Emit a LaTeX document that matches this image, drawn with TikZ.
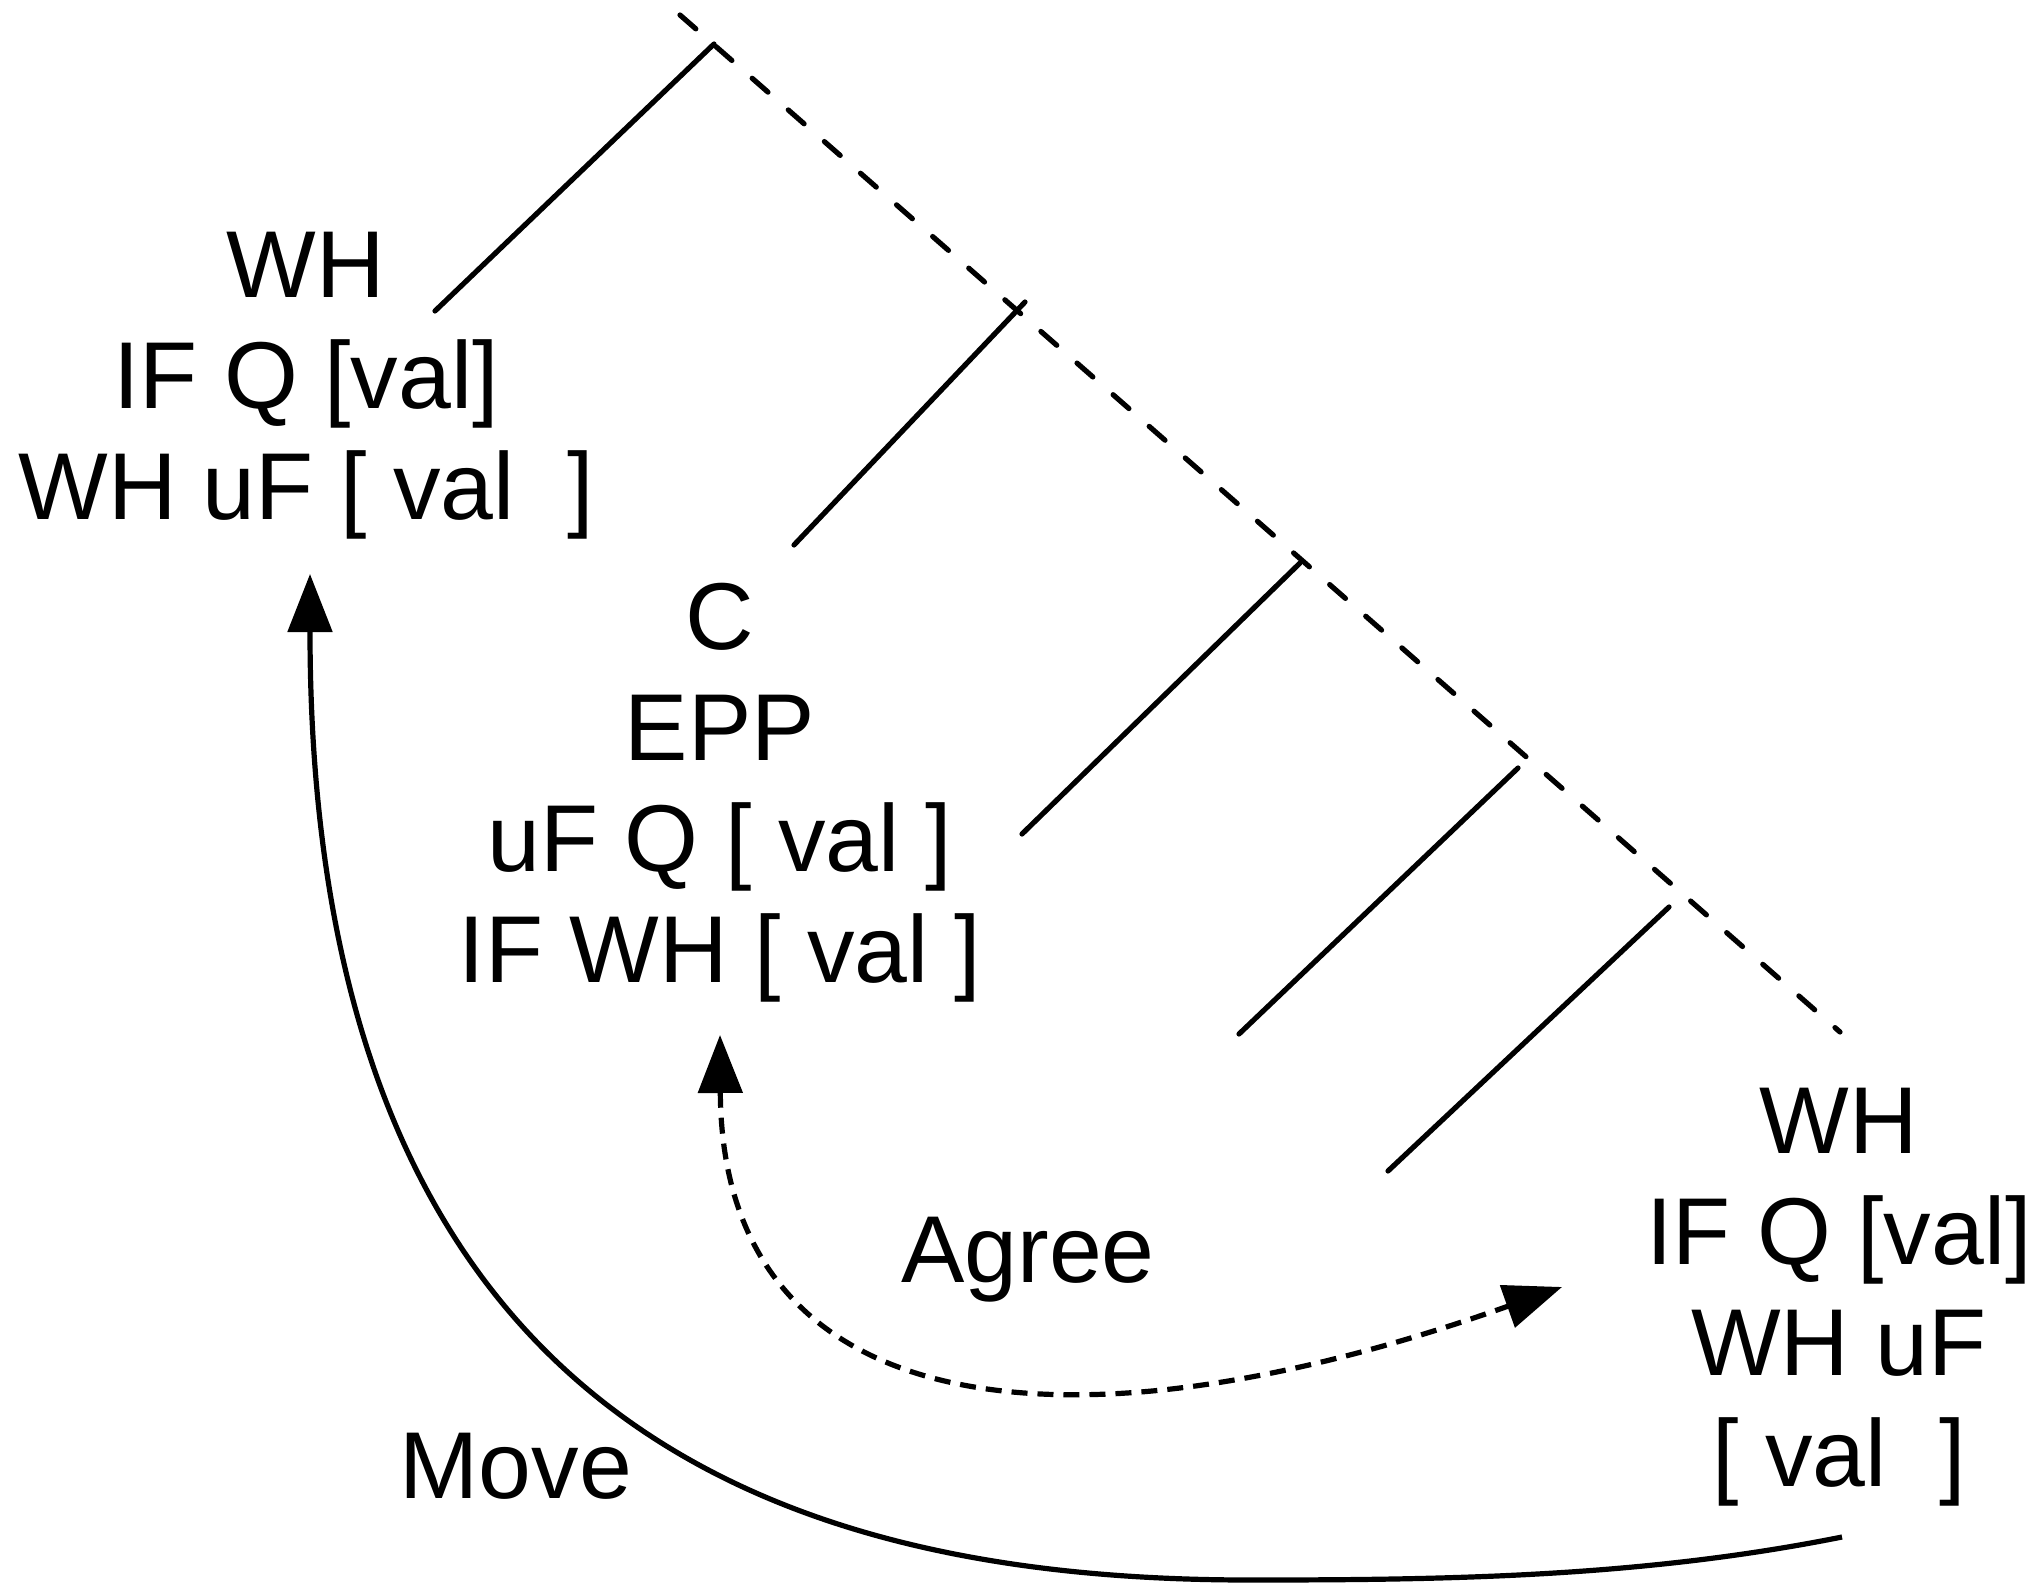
\documentclass[tikz,border=0pt]{standalone}
\usepackage{fontspec}
\setmainfont{Liberation Sans}
\usetikzlibrary{arrows.meta}
\newcommand{\mystack}[1]{\vtop{\baselineskip=55.5pt\lineskiplimit=-100pt\lineskip=0pt\halign{\hfil##\hfil\cr#1\crcr}}}
\begin{document}
\begin{tikzpicture}[x=0.5pt,y=-0.5pt,
  lbl/.style={inner sep=0pt, anchor=base, font=\fontsize{47.5}{55.5}\selectfont},
  branch/.style={line width=2.6pt, line cap=round},
  spine/.style={line width=2.6pt, line cap=round, dash pattern=on 10.5pt off 13.5pt},
  movearrow/.style={line width=2.6pt, -{Triangle[length=29pt,width=22pt]}},
  agreearrow/.style={line width=2.6pt, dash pattern=on 8pt off 5pt,
    {Triangle[length=29pt,width=22pt]}-{Triangle[length=29pt,width=22pt]}}]
\useasboundingbox (0,0) rectangle (2034,1584);

% text blocks
\node[lbl] (L) at (306,297) {\mystack{WH\cr IF Q [val]\cr WH uF [ val\ \ ]}};
\node[lbl] (C) at (720,649) {\mystack{C\cr EPP\cr uF Q [ val ]\cr IF WH [ val ]}};
\node[lbl] (R) at (1839,1153) {\mystack{WH\cr IF Q [val]\cr WH uF\cr [ val\ \ ]}};
\node[lbl] (agree) at (1028,1282) {Agree};
\node[lbl] (move) at (516,1498) {Move};

% dashed spine
\coordinate (spineTop) at (680,15);
\coordinate (spineEnd) at (1840,1032);
\draw[spine] (spineTop) -- (spineEnd);

% branches
\coordinate (a1) at (714,44);   \coordinate (b1) at (435,311);
\coordinate (a2) at (1025,302); \coordinate (b2) at (794,545);
\coordinate (a3) at (1300,563); \coordinate (b3) at (1022,834);
\coordinate (a4) at (1518,768); \coordinate (b4) at (1239,1034);
\coordinate (a5) at (1669,907); \coordinate (b5) at (1388,1171);
\draw[branch] (a1) -- (b1);
\draw[branch] (a2) -- (b2);
\draw[branch] (a3) -- (b3);
\draw[branch] (a4) -- (b4);
\draw[branch] (a5) -- (b5);

% Move
\coordinate (mvS) at (1842,1537);
\coordinate (mvB) at (1250,1580);
\coordinate (mvT) at (310,574);
\draw[movearrow] (mvS) .. controls (1642,1577) and (1450,1580) .. (mvB)
  .. controls (770,1580) and (310,1415) .. (mvT);

% Agree
\coordinate (agT) at (720,1035);
\coordinate (agR) at (1562,1287);
\draw[agreearrow] (agT) .. controls (722,1415) and (1052,1468) .. (agR);
\end{tikzpicture}
\end{document}
